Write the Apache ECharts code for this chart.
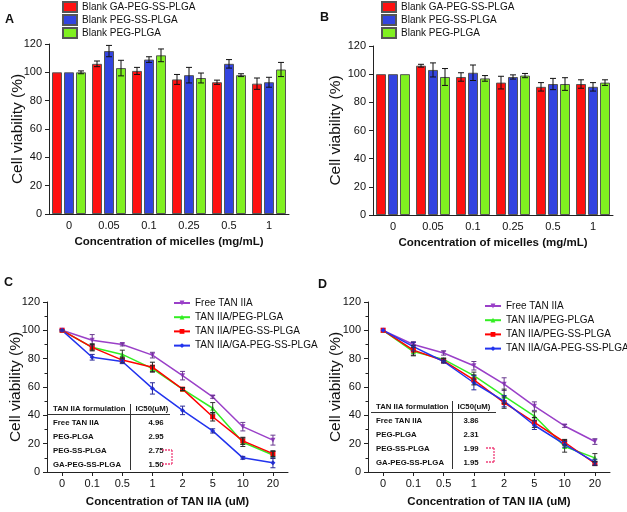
<!DOCTYPE html>
<html><head><meta charset="utf-8">
<script src="https://cdn.jsdelivr.net/npm/echarts@6/dist/echarts.min.js"></script>
<style>html,body{margin:0;padding:0;background:#fff}#c{width:627px;height:512px}</style>
</head><body><div id="c"></div>
<script>
// ---------- data ----------
const micelleCats = ['0','0.05','0.1','0.25','0.5','1'];
const barNames = ['Blank GA-PEG-SS-PLGA','Blank PEG-SS-PLGA','Blank PEG-PLGA'];
// Panel A
const aRed = [100,106,101,95,93,92];
const aRedErr = [0,2,2.5,3.5,1.5,4];
const aBlue = [100,115,109,98,106,93];
const aBlueErr = [0,4,2,5.5,3,3.5];
const aGreen = [100,103,112,96,98,102];
const aGreenErr = [1,5.5,4.5,3.5,1,5];
// Panel B
const bRed = [100,106,98,94,91,93];
const bRedErr = [0,1,3,4.5,3,3];
const bBlue = [100,103,101,98,93,91];
const bBlueErr = [0,5,5.5,1.5,4,3];
const bGreen = [100,98,97,99,93,94];
const bGreenErr = [0,6,2,1.5,4.5,2];

const tanCats = ['0','0.1','0.5','1','2','5','10','20'];
const lineNames = ['Free TAN IIA','TAN IIA/PEG-PLGA','TAN IIA/PEG-SS-PLGA','TAN IIA/GA-PEG-SS-PLGA'];
// Panel C
const cFree = [100,93,90,82.5,68,53,32,22.5];
const cFreeErr = [0.5,4,1,2,3,1,3,3.5];
const cPeg = [100,88,83,73,58.5,45,21,12];
const cPegErr = [0,2,3,2,1,4,3,2.5];
const cPegSS = [100,88,79,74,58.5,39,22,13];
const cPegSSErr = [0,2.5,2,3.5,1,3,2.5,2];
const cGa = [100,81,78,59,43.5,29,10,6.5];
const cGaErr = [0.5,2,1.5,4,3,1.5,1,3.5];
// Panel D
const dFree = [100,90,84,75,62,46.5,32.5,21.5];
const dFreeErr = [0,2,1.5,3,4.5,3,1,2];
const dPeg = [100,85,79.5,68,53.5,39.5,18,10];
const dPegErr = [0,3,1,2.5,5,3,4,3];
const dPegSS = [100,86,78.5,65,49,35,21,6];
const dPegSSErr = [0,3.5,1.5,3.5,4,3.5,2,1.5];
const dGa = [100,88.5,78,63,50,33,19.5,7];
const dGaErr = [0,3,1,5,4,3,2,2];
// IC50 tables
const formulations = ['Free TAN IIA','PEG-PLGA','PEG-SS-PLGA','GA-PEG-SS-PLGA'];
const cIC50 = ['4.96','2.95','2.75','1.50'];
const dIC50 = ['3.86','2.31','1.99','1.95'];

// ---------- styles ----------
const FONT = "'Liberation Sans', Arial, sans-serif";
const barColors = ['#ff1111','#3344e0','#80f020'];
const lineColors = ['#9a40c8','#33ee22','#ff0000','#2233ee'];
const errColors = ['#6a3a90','#333333','#222222','#2a2a99'];
const lineSymbols = ['triangle','triangle','rect','diamond'];
const lineSymRot = [180,0,0,0];

const chart = echarts.init(document.getElementById('c'), null, {renderer:'canvas'});

function errSeries(xi, vals, errs, offset, color, cap) {
  const data = [];
  vals.forEach((v,i)=>{ if (errs[i] > 0) data.push([i, v-errs[i], v+errs[i]]); });
  return {
    type:'custom', xAxisIndex:xi, yAxisIndex:xi, silent:true, z:10,
    data: data, encode:{x:0, y:[1,2]},
    renderItem: function(params, api){
      const lo = api.coord([api.value(0), api.value(1)]);
      const hi = api.coord([api.value(0), api.value(2)]);
      const x = lo[0] + offset;
      const st = {stroke:color, lineWidth:1};
      return {type:'group', children:[
        {type:'line', shape:{x1:x,y1:lo[1],x2:x,y2:hi[1]}, style:st},
        {type:'line', shape:{x1:x-cap,y1:lo[1],x2:x+cap,y2:lo[1]}, style:st},
        {type:'line', shape:{x1:x-cap,y1:hi[1],x2:x+cap,y2:hi[1]}, style:st}
      ]};
    }
  };
}

function yAxisDef(gi, minor, nameGap) {
  return {
    type:'value', gridIndex:gi, min:0, max:120, interval:20,
    name:'Cell viability (%)', nameLocation:'middle', nameGap:nameGap, nameRotate:90,
    nameMoveOverlap:false,
    nameTextStyle:{fontFamily:FONT, fontSize:15.5, color:'#111'},
    axisLine:{show:true, lineStyle:{color:'#222', width:1}},
    axisTick:{show:true, inside:false, length:4, lineStyle:{color:'#222'}},
    minorTick:{show:minor, splitNumber:2, length:2.5, lineStyle:{color:'#222'}},
    splitLine:{show:false},
    axisLabel:{fontFamily:FONT, fontSize:11, color:'#111', margin:7}
  };
}
function xAxisDef(gi, cats, name, ticks, nameGap) {
  return {
    type:'category', gridIndex:gi, data:cats, boundaryGap:true,
    name:name, nameLocation:'middle', nameGap:nameGap, nameMoveOverlap:false,
    nameTextStyle:{fontFamily:FONT, fontSize:11.5, fontWeight:'bold', color:'#111'},
    axisLine:{show:true, lineStyle:{color:'#222', width:1}},
    axisTick:{show:ticks, alignWithLabel:true, length:4, lineStyle:{color:'#222'}},
    splitLine:{show:false},
    axisLabel:{fontFamily:FONT, fontSize:11, color:'#111', margin:6, interval:0}
  };
}

const series = [];
// Bars A (grid 0) and B (grid 1)
const barSets = [
  [[aRed,aRedErr],[aBlue,aBlueErr],[aGreen,aGreenErr]],
  [[bRed,bRedErr],[bBlue,bBlueErr],[bGreen,bGreenErr]]
];
barSets.forEach((set, gi)=>{
  set.forEach((s, k)=>{
    series.push({
      type:'bar', name:barNames[k], xAxisIndex:gi, yAxisIndex:gi,
      data:s[0], barWidth:10, barGap:'20%',
      itemStyle:{color:barColors[k], borderColor:'#555', borderWidth:1}
    });
  });
  set.forEach((s, k)=>{
    series.push(errSeries(gi, s[0], s[1], (k-1)*12, '#111', 3));
  });
});
// Lines C (grid 2) and D (grid 3)
const lineSets = [
  [[cFree,cFreeErr],[cPeg,cPegErr],[cPegSS,cPegSSErr],[cGa,cGaErr]],
  [[dFree,dFreeErr],[dPeg,dPegErr],[dPegSS,dPegSSErr],[dGa,dGaErr]]
];
lineSets.forEach((set, j)=>{
  const gi = j + 2;
  set.forEach((s, k)=>{
    series.push({
      type:'line', name:lineNames[k], xAxisIndex:gi, yAxisIndex:gi,
      data:s[0], symbol:lineSymbols[k], symbolRotate:lineSymRot[k], symbolSize:5,
      lineStyle:{color:lineColors[k], width:1.5},
      itemStyle:{color:lineColors[k]}, z:3
    });
  });
  set.forEach((s, k)=>{
    series.push(errSeries(gi, s[0], s[1], 0, errColors[k], 2.5));
  });
});

// graphics: panel letters and IC50 tables
const graphics = [];
function txt(text, x, y, size, bold, align) {
  graphics.push({type:'text', x:x, y:y, silent:true, style:{
    text:text, fill:'#111', font:(bold?'bold ':'')+size+'px '+FONT,
    align:align||'left', textAlign:align||'left', verticalAlign:'middle', textVerticalAlign:'middle'}});
}
function ln(x1,y1,x2,y2,color,dash,w) {
  graphics.push({type:'line', silent:true, shape:{x1:x1,y1:y1,x2:x2,y2:y2},
    style:{stroke:color, lineWidth:w||1, lineDash:dash||null}});
}
txt('A', 5, 20, 12.5, true);
txt('B', 320, 18, 12.5, true);
txt('C', 4, 283, 12.5, true);
txt('D', 318, 285, 12.5, true);

function table(cfg, vals) {
  txt('TAN IIA formulation', cfg.nameX, cfg.headY, 7.8, true);
  txt('IC50(uM)', cfg.headValX, cfg.headY, 7.8, true, 'center');
  ln(cfg.lineX1, cfg.lineY, cfg.lineX2, cfg.lineY, '#333');
  ln(cfg.vX, cfg.vY1, cfg.vX, cfg.vY2, '#333');
  formulations.forEach((f,i)=>{
    txt(f, cfg.nameX, cfg.rows[i], 7.8, true);
    txt(vals[i], cfg.valX, cfg.rows[i], 7.8, true, 'center');
  });
  const b = cfg.br;
  ln(b[0], b[1], b[2], b[1], '#f0407a', [2,1], 1.3);
  ln(b[2], b[1], b[2], b[3], '#f0407a', [2,1], 1.3);
  ln(b[0], b[3], b[2], b[3], '#f0407a', [2,1], 1.3);
}
table({nameX:53, headY:409, headValX:152, lineX1:48, lineX2:170, lineY:414.5,
       vX:130.5, vY1:404, vY2:470, rows:[423,437,451,465], valX:156, br:[162,450,172,464]}, cIC50);
table({nameX:376, headY:407, headValX:474, lineX1:371, lineX2:496, lineY:412.5,
       vX:452.5, vY1:401, vY2:469, rows:[421,434.5,448.5,462.5], valX:471, br:[486,448,494,462]}, dIC50);

const legendBase = {orient:'vertical', selectedMode:false, padding:0,
  textStyle:{fontFamily:FONT, fontSize:10, color:'#111', lineHeight:12}};

const option = {
  animation:false,
  backgroundColor:'#fff',
  grid:[
    {left:49, top:44, width:240, height:170, outerBoundsMode:'none'},
    {left:373, top:46, width:240, height:169, outerBoundsMode:'none'},
    {left:47, top:302, width:241, height:170, outerBoundsMode:'none'},
    {left:368, top:302, width:242, height:170, outerBoundsMode:'none'}
  ],
  xAxis:[
    xAxisDef(0, micelleCats, 'Concentration of micelles (mg/mL)', false, 22),
    xAxisDef(1, micelleCats, 'Concentration of micelles (mg/mL)', false, 22),
    xAxisDef(2, tanCats, 'Concentration of TAN IIA (uM)', true, 24),
    xAxisDef(3, tanCats, 'Concentration of TAN IIA (uM)', true, 24)
  ],
  yAxis:[ yAxisDef(0,false,23), yAxisDef(1,false,29), yAxisDef(2,true,23), yAxisDef(3,true,24) ],
  legend:[
    Object.assign({}, legendBase, {left:62, top:1, icon:'rect', itemWidth:14, itemHeight:10, itemGap:1, data:barNames}),
    Object.assign({}, legendBase, {left:381, top:1, icon:'rect', itemWidth:14, itemHeight:10, itemGap:1, data:barNames}),
    Object.assign({}, legendBase, {left:173, top:297, itemWidth:16, itemHeight:6, itemGap:2.2, data:lineNames}),
    Object.assign({}, legendBase, {left:484, top:300, itemWidth:16, itemHeight:6, itemGap:2.2, data:lineNames})
  ],
  graphic:graphics,
  series:series
};
chart.setOption(option);
</script></body></html>
